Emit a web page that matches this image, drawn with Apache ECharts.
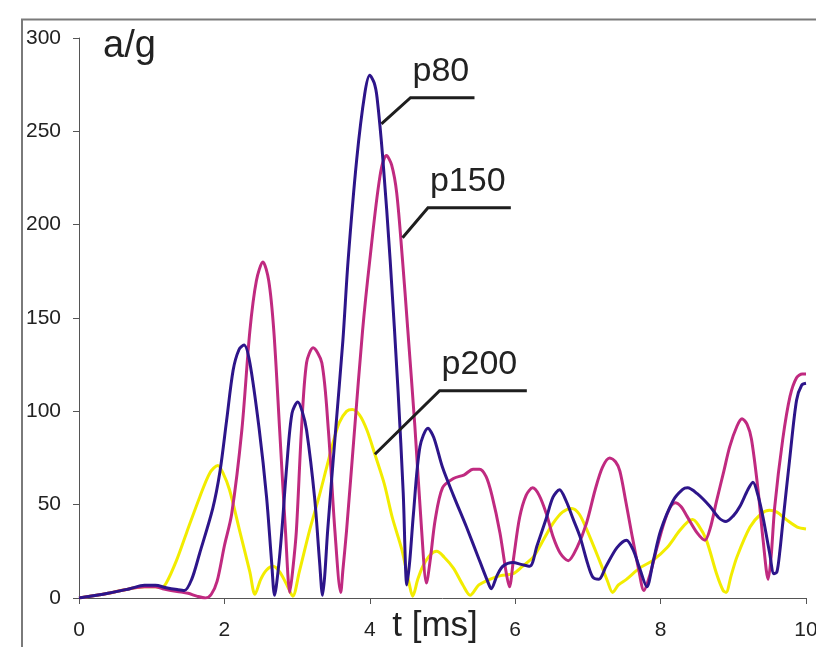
<!DOCTYPE html>
<html>
<head>
<meta charset="utf-8">
<script src="https://cdn.jsdelivr.net/npm/echarts@6/dist/echarts.min.js"></script>
<style>
  html, body { margin: 0; padding: 0; background: #ffffff; }
  #chart { width: 816px; height: 647px; }
</style>
</head>
<body>
<div id="chart"></div>
<script>
// Acceleration a/g versus time t [ms] for three cases
const xTicks = [0, 2, 4, 6, 8, 10];
const yTicks = [0, 50, 100, 150, 200, 250, 300];

const p80 = [
  [0, 0], [0.4, 2.5], [0.7, 5], [0.9, 6.8], [1.05, 6.8], [1.2, 5.5], [1.35, 4.5], [1.45, 4],
  [1.55, 10], [1.66, 24], [1.84, 48], [1.94, 68], [2.03, 95], [2.12, 122], [2.2, 133], [2.27, 135.5],
  [2.35, 126], [2.48, 90], [2.58, 54], [2.65, 19], [2.69, 1.5], [2.74, 15], [2.79, 36], [2.86, 72],
  [2.93, 99], [3.01, 105], [3.07, 100], [3.13, 90], [3.24, 54], [3.31, 19], [3.35, 1.5], [3.38, 12],
  [3.42, 36], [3.53, 90], [3.63, 138], [3.7, 180], [3.82, 235], [3.93, 270], [4.0, 280], [4.06, 276],
  [4.1, 268], [4.18, 235], [4.28, 181], [4.39, 110], [4.46, 56], [4.51, 7], [4.55, 20], [4.6, 45],
  [4.69, 81], [4.8, 91], [4.88, 86], [5.0, 70], [5.15, 55], [5.33, 38], [5.51, 20], [5.62, 9],
  [5.67, 5], [5.75, 12], [5.83, 17], [5.97, 19], [6.08, 18], [6.2, 17], [6.3, 28], [6.43, 43],
  [6.52, 54], [6.61, 58], [6.7, 52], [6.8, 42], [6.89, 33], [7.0, 18], [7.07, 11], [7.15, 10],
  [7.25, 17], [7.4, 27], [7.53, 31], [7.62, 26], [7.72, 15], [7.81, 6], [7.9, 20], [8.0, 36],
  [8.17, 52], [8.3, 58], [8.37, 59], [8.5, 56], [8.68, 49], [8.8, 43], [8.9, 41], [9.0, 44],
  [9.09, 49], [9.2, 58], [9.27, 62], [9.34, 55], [9.41, 43], [9.5, 24], [9.56, 13], [9.6, 14],
  [9.64, 25], [9.68, 40], [9.78, 76], [9.87, 106], [9.94, 114], [10, 115]
];

const p150 = [
  [0, 0], [0.4, 2.5], [0.7, 5], [0.9, 6], [1.05, 6], [1.15, 5], [1.35, 3.5], [1.5, 2.5],
  [1.62, 1], [1.74, 0], [1.82, 2], [1.9, 9], [2.0, 28], [2.1, 45], [2.24, 90], [2.35, 143],
  [2.44, 170], [2.53, 180], [2.61, 170], [2.68, 143], [2.76, 90], [2.84, 36], [2.9, 3], [2.94, 15],
  [2.99, 36], [3.06, 90], [3.13, 126], [3.22, 134], [3.34, 126], [3.43, 90], [3.52, 36], [3.6, 3],
  [3.63, 15], [3.68, 36], [3.79, 90], [3.9, 143], [4.0, 181], [4.14, 226], [4.23, 237], [4.3, 232],
  [4.37, 217], [4.45, 181], [4.52, 145], [4.62, 92], [4.71, 38], [4.78, 8], [4.83, 20], [4.9, 42],
  [5.0, 59], [5.15, 64], [5.3, 66], [5.42, 69], [5.51, 69], [5.6, 65], [5.68, 55], [5.79, 35],
  [5.87, 15], [5.92, 6], [5.98, 22], [6.06, 43], [6.15, 55], [6.24, 59], [6.33, 55], [6.43, 45],
  [6.52, 33], [6.62, 24], [6.73, 20], [6.85, 27], [6.98, 40], [7.1, 58], [7.2, 70], [7.3, 75],
  [7.38, 73], [7.44, 68], [7.52, 52], [7.6, 35], [7.7, 15], [7.77, 4], [7.85, 12], [7.95, 27],
  [8.09, 45], [8.2, 51], [8.28, 49], [8.36, 44], [8.5, 35], [8.61, 31], [8.68, 37], [8.77, 52],
  [8.87, 68], [8.95, 81], [9.05, 92], [9.12, 96], [9.19, 93], [9.25, 85], [9.34, 58], [9.41, 31],
  [9.48, 10], [9.52, 22], [9.57, 49], [9.68, 85], [9.78, 108], [9.87, 118], [9.95, 120], [10, 120]
];

const p200 = [
  [0, 0], [0.4, 2.5], [0.7, 5], [0.9, 6], [1.05, 6], [1.13, 5.5], [1.2, 8], [1.34, 20],
  [1.48, 35], [1.66, 54], [1.8, 67], [1.91, 71], [1.98, 67], [2.07, 58], [2.21, 36], [2.35, 14],
  [2.42, 2], [2.5, 10], [2.58, 15], [2.67, 17], [2.76, 14], [2.86, 7], [2.94, 1], [3.03, 14],
  [3.17, 36], [3.3, 54], [3.4, 69], [3.5, 84], [3.58, 94], [3.68, 100], [3.76, 101], [3.86, 98],
  [3.96, 90], [4.07, 77], [4.2, 61], [4.31, 43], [4.44, 26], [4.54, 8], [4.59, 1], [4.66, 10],
  [4.73, 17], [4.83, 23], [4.92, 25], [5.02, 22], [5.15, 16], [5.28, 7], [5.38, 1.5], [5.5, 7],
  [5.65, 10], [5.8, 12], [5.97, 13], [6.1, 17], [6.25, 22], [6.4, 32], [6.52, 40], [6.65, 46],
  [6.78, 48], [6.88, 45], [6.98, 37], [7.16, 20], [7.27, 9], [7.34, 3], [7.42, 7], [7.53, 10],
  [7.71, 16], [7.89, 20], [8.09, 27], [8.26, 36], [8.38, 41], [8.44, 42], [8.52, 39], [8.63, 31],
  [8.77, 13], [8.86, 4], [8.9, 3], [8.97, 12], [9.05, 22], [9.23, 38], [9.38, 45], [9.5, 47],
  [9.6, 46], [9.73, 42], [9.88, 38], [10, 37]
];

// Call-out labels: curve point, elbow and end of each leader line
const calloutNames = ['p80', 'p150', 'p200'];
const calloutTips = [[4.16, 254], [4.45, 193], [4.07, 77]];
const calloutElbows = [[4.56, 268], [4.80, 209], [4.96, 111]];
const calloutEnds = [[5.44, 268], [5.94, 209], [6.16, 111]];

const colors = ['#2d158a', '#c02a80', '#f2ec00'];
const FONT = '"Liberation Sans", Arial, Helvetica, sans-serif';

const chart = echarts.init(document.getElementById('chart'), null, { renderer: 'canvas' });

const axisLineStyle = { color: '#555555', width: 1 };

chart.setOption({
  animation: false,
  backgroundColor: '#ffffff',
  grid: { left: 79, right: 10, top: 38, bottom: 49, containLabel: false, outerBoundsMode: 'none' },
  xAxis: {
    type: 'value',
    min: xTicks[0],
    max: xTicks[xTicks.length - 1],
    interval: 2,
    axisLine: { show: true, onZero: false, lineStyle: axisLineStyle },
    axisTick: { show: true, length: 6, inside: false, lineStyle: axisLineStyle },
    axisLabel: { show: true, margin: 22, color: '#222222', fontSize: 21, fontFamily: FONT, showMaxLabel: true },
    splitLine: { show: false }
  },
  yAxis: {
    type: 'value',
    min: yTicks[0],
    max: yTicks[yTicks.length - 1],
    interval: 50,
    axisLine: { show: true, lineStyle: axisLineStyle },
    axisTick: { show: true, length: 6, inside: false, lineStyle: axisLineStyle },
    axisLabel: { show: true, margin: 18, color: '#222222', fontSize: 21, fontFamily: FONT },
    splitLine: { show: false }
  },
  series: [
    { name: 'p80', data: p80, color: colors[0] },
    { name: 'p150', data: p150, color: colors[1] },
    { name: 'p200', data: p200, color: colors[2] }
  ].map(s => ({
    name: s.name,
    type: 'line',
    data: s.data,
    showSymbol: false,
    smooth: 0.3,
    lineStyle: { color: s.color, width: 3 },
    itemStyle: { color: s.color },
    z: 2
  })).reverse()
});

// Frame, axis titles and call-outs placed through the grid's coordinate system
const px = p => chart.convertToPixel({ gridIndex: 0 }, p);
const graphics = [
  {
    type: 'polyline',
    shape: { points: [[22, 647], [22, 19.5], [816, 19.5]] },
    style: { stroke: '#7a7a7a', lineWidth: 2, fill: null },
    z: 10
  },
  {
    type: 'text',
    x: 103, y: 47,
    style: { text: 'a/g', fontSize: 38, fontFamily: FONT, fill: '#222222', textAlign: 'left', textVerticalAlign: 'middle' },
    z: 10
  },
  {
    type: 'text',
    x: 435, y: 626,
    style: { text: 't [ms]', fontSize: 35, fontFamily: FONT, fill: '#222222', textAlign: 'center', textVerticalAlign: 'middle' },
    z: 10
  }
];
calloutNames.forEach((name, i) => {
  const a = px(calloutTips[i]);
  const b = px(calloutElbows[i]);
  const c = px(calloutEnds[i]);
  graphics.push({
    type: 'polyline',
    shape: { points: [a, b, c] },
    style: { stroke: '#1e1e1e', lineWidth: 3, fill: null, lineJoin: 'miter' },
    z: 10
  });
  graphics.push({
    type: 'text',
    x: b[0] + 2, y: b[1] - 26,
    style: { text: name, fontSize: 34, fontFamily: FONT, fill: '#222222', textAlign: 'left', textVerticalAlign: 'middle' },
    z: 10
  });
});
chart.setOption({ graphic: graphics });
</script>
</body>
</html>
